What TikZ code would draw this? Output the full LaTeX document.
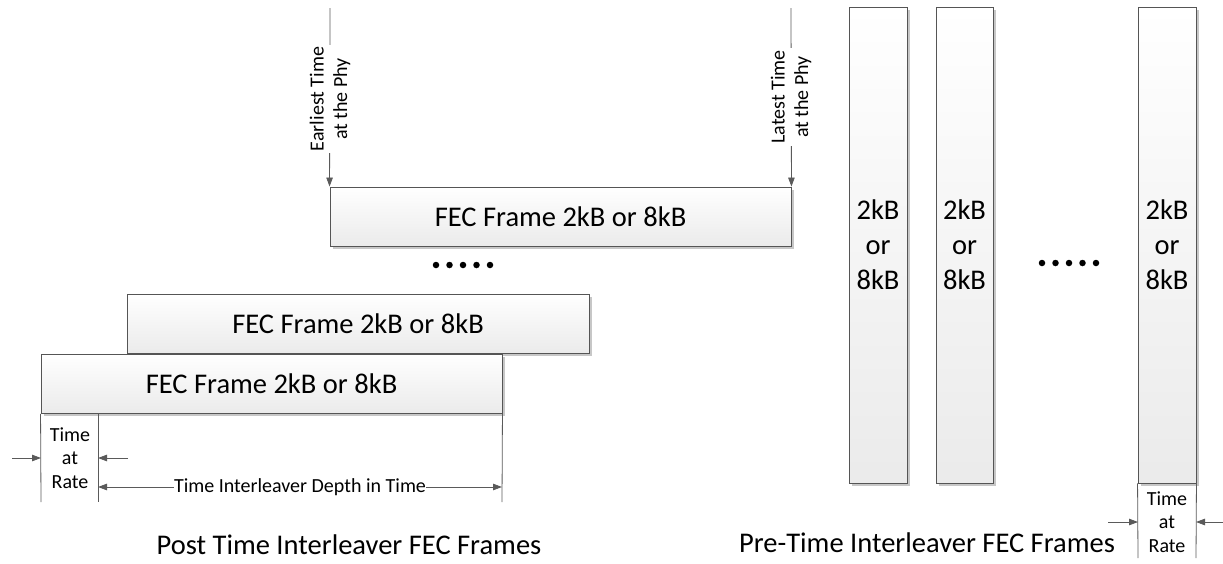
\documentclass[tikz,border=0pt]{standalone}
\usepackage{fontspec}
\setmainfont{Carlito}
\usetikzlibrary{arrows.meta,shadows}
\definecolor{edge}{HTML}{555555}
\definecolor{lin}{HTML}{5A5A5A}
\tikzset{
  frame/.style={draw=edge,line width=0.9pt,top color=white,bottom color=black!8,
    drop shadow={shadow xshift=2.5pt,shadow yshift=-2.5pt,fill=black!22,opacity=1},
    inner sep=0pt,font=\fontsize{28.5}{35}\selectfont,text=black},
  hframe/.style={frame,minimum height=59pt},
  vframe/.style={frame,minimum height=476pt,align=center},
  conn/.style={draw=lin,line width=0.8pt},
  arr/.style={conn,-{Triangle[length=9pt,width=6.5pt]}},
  dblarr/.style={conn,{Triangle[length=9pt,width=6.5pt]}-{Triangle[length=9pt,width=6.5pt]}},
  small/.style={font=\fontsize{20}{23.5}\selectfont,align=center,inner sep=1pt},
  biglabel/.style={font=\fontsize{28.5}{35}\selectfont,inner sep=0pt},
  dot/.style={fill=black,circle,inner sep=0pt,minimum size=6.5pt}
}
\begin{document}
\begin{tikzpicture}[x=1pt,y=-1pt]
\useasboundingbox (0,0) rectangle (1223,563);
% left: post time interleaver
\node[hframe,minimum width=461pt] (b1) at (560.5,216.5) {FEC Frame 2kB or 8kB};
\node[hframe,minimum width=462pt] (b2) at (358,324) {FEC Frame 2kB or 8kB};
\node[hframe,minimum width=461pt] (b3) at (271.5,384) {FEC Frame 2kB or 8kB};
% earliest / latest arrows
\coordinate (etop) at (330,8);
\coordinate (ltop) at (791,8);
\draw[arr] (etop) -- (b1.north west);
\draw[arr] (ltop) -- (b1.north east);
\node[small,rotate=90,fill=white,inner sep=2pt] (elab) at (330,99) {Earliest Time\\at the Phy};
\node[small,rotate=90,fill=white,inner sep=2pt] (llab) at (791,97) {Latest Time\\at the Phy};
% dots left
\foreach \i [count=\k] in {436,449.5,463,476.5,490} \node[dot] (dl\k) at (\i,265) {};
% extension lines
\coordinate (x1) at (41,502);
\coordinate (x2) at (98,502);
\coordinate (x3) at (502,502);
\coordinate (t2) at (98,413);
\draw[conn] (b3.south west) -- (x1);
\draw[conn] (t2) -- (x2);
\draw[conn] (b3.south east) -- (x3);
\node[small] (tar1) at (70,458) {Time\\at\\Rate};
\coordinate (a1s) at (12,458);
\coordinate (a1e) at (41,458);
\coordinate (a2s) at (128,458);
\coordinate (a2e) at (98,458);
\draw[arr] (a1s) -- (a1e);
\draw[arr] (a2s) -- (a2e);
\coordinate (d1) at (98,487);
\coordinate (d2) at (502,487);
\draw[dblarr] (d1) -- node[small,fill=white,inner sep=0.5pt] (depth) {Time Interleaver Depth in Time} (d2);
\node[biglabel] (post) at (349,545) {Post Time Interleaver FEC Frames};
% right: pre time interleaver
\node[vframe,minimum width=58pt] (c1) at (878,245) {2kB\\or\\8kB};
\node[vframe,minimum width=57pt] (c2) at (964.5,245) {2kB\\or\\8kB};
\node[vframe,minimum width=58pt] (c3) at (1167,245) {2kB\\or\\8kB};
\foreach \i [count=\k] in {1042,1055.5,1069,1082.5,1096} \node[dot] (dr\k) at (\i,263) {};
\coordinate (y1) at (1138,558);
\coordinate (y2) at (1196,558);
\draw[conn] (c3.south west) -- (y1);
\draw[conn] (c3.south east) -- (y2);
\node[small] (tar2) at (1167,522) {Time\\at\\Rate};
\coordinate (b1s) at (1108,522);
\coordinate (b1e) at (1138,522);
\coordinate (b2s) at (1223,522);
\coordinate (b2e) at (1196,522);
\draw[arr] (b1s) -- (b1e);
\draw[arr] (b2s) -- (b2e);
\node[biglabel] (pre) at (927,543) {Pre-Time Interleaver FEC Frames};
\end{tikzpicture}
\end{document}
